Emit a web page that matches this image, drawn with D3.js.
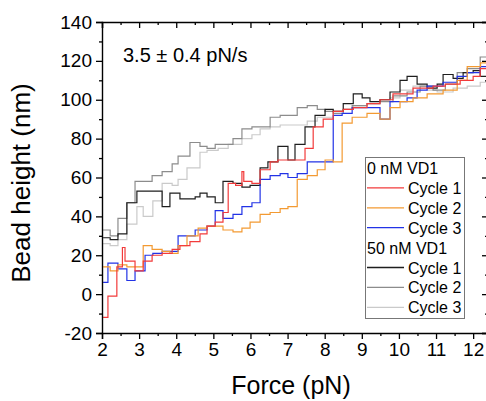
<!DOCTYPE html>
<html>
<head>
<meta charset="utf-8">
<script src="https://cdn.jsdelivr.net/npm/d3@7"></script>
<style>
  html, body { margin: 0; padding: 0; background: #fff; }
  svg { display: block; font-family: Arial, "Liberation Sans", sans-serif; }
</style>
</head>
<body>
<svg id="chart" width="486" height="401"></svg>
<script>

/* Data: [force (pN), bead height (nm)] step points */
var cycle1Free = [[2.03,-12],[2.16,-1],[2.40,14],[2.55,24],[2.62,17],[2.89,12],[3.11,17],[3.35,20],[3.62,21],[3.89,23],[4.10,25],[4.37,27],[4.64,31],[4.83,35],[5.05,37],[5.26,42],[5.40,57],[5.60,56],[5.77,63],[5.82,58],[6.04,57],[6.26,64],[6.53,68],[6.74,69],[7.01,69],[7.47,75],[7.69,86],[7.96,90],[8.23,94],[8.50,95],[8.77,96],[9.14,98],[9.49,100],[9.84,103],[10.38,106],[10.92,107],[11.25,108],[11.65,110],[12.00,112],[12.19,116],[12.4,118]];
var cycle2Free = [[2.03,14],[2.22,12],[2.43,15],[2.67,14],[2.89,14],[3.11,25],[3.35,23],[3.62,22],[3.83,21],[4.05,25],[4.29,30],[4.59,34],[4.83,35],[4.99,35],[5.26,33],[5.53,32],[5.77,34],[5.99,37],[6.26,41],[6.53,42],[6.80,44],[7.01,45],[7.26,59],[7.53,61],[7.80,64],[8.01,69],[8.23,68],[8.47,88],[8.74,91],[9.14,93],[9.49,90],[9.76,96],[10.03,99],[10.38,101],[10.76,103],[11.19,105],[11.57,110],[11.84,117],[12.2,119],[12.4,120]];
var cycle3Free = [[2.03,6],[2.16,16],[2.43,13],[2.67,7],[2.89,12],[3.16,20],[3.37,21],[3.62,22],[4.05,30],[4.51,33],[4.83,35],[5.05,43],[5.26,39],[5.53,41],[5.77,45],[6.04,47],[6.26,59],[6.53,61],[6.80,62],[7.01,60],[7.26,62],[7.53,68],[7.74,68],[8.23,92],[8.47,93],[8.74,96],[9.14,96],[9.49,90],[9.76,99],[10.22,101],[10.49,105],[10.76,107],[11.19,109],[11.57,112],[11.84,114],[12.19,117],[12.4,117]];
var cycle1Vd1 = [[2.03,29],[2.22,28],[2.43,31],[2.67,47],[2.94,53],[3.37,53],[3.62,45],[3.83,52],[4.10,49],[4.51,50],[4.64,52],[4.83,50],[5.05,47],[5.26,58],[5.53,57],[5.77,55],[5.99,56],[6.26,65],[6.47,68],[6.74,76],[7.01,69],[7.20,77],[7.47,86],[7.74,92],[8.01,95],[8.23,94],[8.50,98],[8.77,103],[9.01,101],[9.22,99],[9.49,100],[9.76,104],[10.03,110],[10.22,112],[10.49,108],[10.76,106],[11.03,108],[11.19,113],[11.46,111],[11.73,114],[12.00,115],[12.19,112],[12.4,114]];
var cycle2Vd1 = [[2.03,33],[2.22,30],[2.43,39],[2.67,47],[2.89,58],[3.35,61],[3.62,63],[3.89,67],[4.05,71],[4.37,78],[4.64,76],[4.83,75],[5.05,77],[5.26,77],[5.53,80],[5.77,85],[6.04,86],[6.26,86],[6.53,91],[6.80,92],[7.01,92],[7.26,96],[7.53,97],[7.80,95],[8.01,94],[8.23,93],[8.50,95],[8.74,97],[9.14,98],[9.49,99],[9.84,102],[10.22,104],[10.57,107],[10.92,105],[11.25,108],[11.57,114],[11.84,116],[12.19,122],[12.4,123]];
var cycle3Vd1 = [[2.03,26],[2.22,25],[2.43,28],[2.67,36],[2.94,45],[3.11,40],[3.37,48],[3.62,57],[3.89,56],[4.05,59],[4.29,65],[4.64,73],[4.83,74],[5.13,75],[5.40,77],[5.77,80],[6.04,82],[6.26,85],[6.53,86],[6.80,87],[7.26,87],[7.53,89],[7.80,91],[8.23,94],[8.50,95],[8.77,97],[9.14,98],[9.49,100],[9.76,101],[10.03,105],[10.38,107],[10.76,105],[11.03,104],[11.46,106],[11.84,107],[12.19,109],[12.4,110]];

var xTicks = [2, 3, 4, 5, 6, 7, 8, 9, 10, 11, 12];
var yTicks = [-20, 0, 20, 40, 60, 80, 100, 120, 140];

var groups = [
  {"title": "0 nM VD1", "series": [
    {"label": "Cycle 1", "color": "#f23b3b", "values": cycle1Free},
    {"label": "Cycle 2", "color": "#f39a32", "values": cycle2Free},
    {"label": "Cycle 3", "color": "#2233e6", "values": cycle3Free}
  ]},
  {"title": "50 nM VD1", "series": [
    {"label": "Cycle 1", "color": "#1e1e1e", "values": cycle1Vd1},
    {"label": "Cycle 2", "color": "#8c8c8c", "values": cycle2Vd1},
    {"label": "Cycle 3", "color": "#cacaca", "values": cycle3Vd1}
  ]}
];

var svg = d3.select("#chart");

var x = d3.scaleLinear().domain([2, 12.4]).range([102, 488]),
    y = d3.scaleLinear().domain([-20, 140]).range([333, 22]);

/* Plain hyphen for negatives, as in the reference */
var plain = (d) => String(d);

/* Clip curves to the plot frame */
svg.append("clipPath").attr("id", "plot-clip")
  .append("rect")
  .attr("x", x.range()[0]).attr("y", y.range()[1])
  .attr("width", x.range()[1] - x.range()[0])
  .attr("height", y.range()[0] - y.range()[1]);

var line = d3.line()
  .x((d) => x(d[0]))
  .y((d) => y(d[1]))
  .curve(d3.curveStepAfter);

/* Draw the 50 nM curves first so the coloured ones sit on top */
var allSeries = groups[1].series.slice().reverse().concat(groups[0].series.slice().reverse());

svg.append("g").attr("clip-path", "url(#plot-clip)")
  .selectAll("path")
  .data(allSeries)
  .enter().append("path")
  .attr("d", (d) => line(d.values))
  .attr("fill", "none")
  .attr("stroke", (d) => d.color)
  .attr("stroke-width", 1.2);

/* Axes */
var xMinor = d3.range(2.5, 12.4, 1),
    yMinor = d3.range(-10, 140, 20);

function styleAxis(g) {
  g.select(".domain").attr("stroke", "#000").attr("stroke-width", 1.4);
  g.selectAll(".tick line").attr("stroke", "#000").attr("stroke-width", 1.3);
  g.selectAll(".tick text").attr("font-size", 19).attr("fill", "#000").attr("font-family", "Arial, 'Liberation Sans', sans-serif");
}

svg.append("g")
  .attr("transform", `translate(0,${y.range()[0]})`)
  .call(d3.axisBottom(x).tickValues(xTicks).tickSize(6).tickPadding(4).tickFormat(plain))
  .call(styleAxis);

svg.append("g")
  .attr("transform", `translate(0,${y.range()[0]})`)
  .call(d3.axisBottom(x).tickValues(xMinor).tickSize(3).tickFormat(""))
  .call(styleAxis)
  .call((g) => g.select(".domain").remove());

svg.append("g")
  .attr("transform", `translate(${x.range()[0]},0)`)
  .call(d3.axisLeft(y).tickValues(yTicks).tickSize(6).tickPadding(4).tickFormat(plain))
  .call(styleAxis);

svg.append("g")
  .attr("transform", `translate(${x.range()[0]},0)`)
  .call(d3.axisLeft(y).tickValues(yMinor).tickSize(3).tickFormat(""))
  .call(styleAxis)
  .call((g) => g.select(".domain").remove());

/* Mirror axes with inward ticks */
svg.append("g")
  .attr("transform", `translate(0,${y.range()[1]})`)
  .call(d3.axisBottom(x).tickValues(xTicks).tickSize(6).tickFormat(""))
  .call(styleAxis);

svg.append("g")
  .attr("transform", `translate(0,${y.range()[1]})`)
  .call(d3.axisBottom(x).tickValues(xMinor).tickSize(3).tickFormat(""))
  .call(styleAxis)
  .call((g) => g.select(".domain").remove());

svg.append("g")
  .attr("transform", `translate(${x.range()[1]},0)`)
  .call(d3.axisLeft(y).tickValues(yTicks).tickSize(6).tickFormat(""))
  .call(styleAxis);

svg.append("g")
  .attr("transform", `translate(${x.range()[1]},0)`)
  .call(d3.axisLeft(y).tickValues(yMinor).tickSize(3).tickFormat(""))
  .call(styleAxis)
  .call((g) => g.select(".domain").remove());

/* Axis titles */
svg.append("text")
  .attr("x", 291).attr("y", 394)
  .attr("text-anchor", "middle")
  .attr("font-size", 25)
  .text("Force (pN)");

svg.append("text")
  .attr("transform", "translate(30,183) rotate(-90)")
  .attr("text-anchor", "middle")
  .attr("font-size", 26)
  .text("Bead height (nm)");

/* Loading rate annotation */
svg.append("text")
  .attr("x", 123).attr("y", 62)
  .attr("font-size", 20)
  .text("3.5 \u00b1 0.4 pN/s");

/* Legend */
var legend = svg.append("g").attr("font-size", 16);

legend.append("rect")
  .attr("x", 365.5).attr("y", 157.5)
  .attr("width", 99).attr("height", 161)
  .attr("fill", "#fff")
  .attr("stroke", "#777")
  .attr("stroke-width", 1);

var rows = [];
groups.forEach(function(g) {
  rows.push({"title": g.title});
  g.series.forEach(function(s) { rows.push(s); });
});

rows.forEach(function(r, i) {
  var base = 174 + i * 19.9;
  if (r.title) {
    legend.append("text").attr("x", 367).attr("y", base).text(r.title);
  }
  else {
    legend.append("line")
      .attr("x1", 367).attr("x2", 404)
      .attr("y1", base - 6).attr("y2", base - 6)
      .attr("stroke", r.color).attr("stroke-width", 1.3);
    legend.append("text").attr("x", 408).attr("y", base).text(r.label);
  }
});

</script>
</body>
</html>
